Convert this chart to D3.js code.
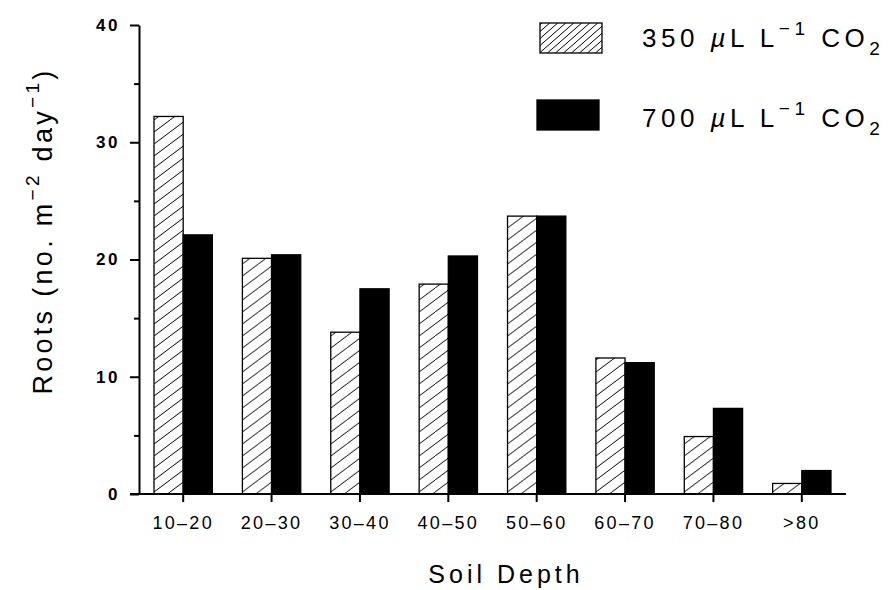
<!DOCTYPE html>
<html>
<head>
<meta charset="utf-8">
<script src="https://cdn.jsdelivr.net/npm/d3@7"></script>
<style>
  body { margin: 0; background: #fff; }
  svg text { font-family: "Liberation Sans", Arial, sans-serif; fill: #000; }
</style>
</head>
<body>
<div id="chart"></div>
<script>
// du lieu doc tu hinh
const depths = ["10–20", "20–30", "30–40", "40–50", "50–60", "60–70", "70–80", ">80"];
const co2Levels = ["350", "700"];
const roots350 = [32.2, 20.1, 13.8, 17.9, 23.7, 11.6, 4.9, 0.9];
const roots700 = [22.1, 20.4, 17.5, 20.3, 23.7, 11.2, 7.3, 2.0];
const yMajorTicks = [0, 10, 20, 30, 40];
const yMinorTicks = [5, 15, 25, 35];

const width = 896, height = 590;

const svg = d3.select("#chart")
    .append("svg")
    .attr("width", width)
    .attr("height", height);

const defs = svg.append("defs");
// hatch cho cot
defs.append("pattern")
    .attr("id", "hatch")
    .attr("patternUnits", "userSpaceOnUse")
    .attr("width", 16).attr("height", 12)
    .call(p => {
        p.append("rect").attr("width", 16).attr("height", 12).attr("fill", "#fff");
        p.append("path")
            .attr("d", "M-2,13.5 L18,-1.5")
            .attr("stroke", "#000").attr("stroke-width", 1);
    });
// hatch nho hon cho chu thich
defs.append("pattern")
    .attr("id", "hatchSmall")
    .attr("patternUnits", "userSpaceOnUse")
    .attr("width", 8).attr("height", 7)
    .call(p => {
        p.append("rect").attr("width", 8).attr("height", 7).attr("fill", "#fff");
        p.append("path")
            .attr("d", "M-2,8.75 L10,-1.75")
            .attr("stroke", "#000").attr("stroke-width", 1);
    });

const x0 = 139, x1 = 846;
const xScale = d3.scaleBand()
    .domain(depths)
    .range([x0, x1])
    .paddingInner(0.34)
    .paddingOuter(0.17);

const xSub = d3.scaleBand()
    .domain(co2Levels)
    .range([0, xScale.bandwidth()]);

const yScale = d3.scaleLinear()
    .domain([0, 40])
    .range([494, 25]);

const data = depths.map((d, i) => ({depth: d, values: [
    {level: "350", v: roots350[i]},
    {level: "700", v: roots700[i]}
]}));

// cot
const groups = svg.selectAll(".grp")
    .data(data)
    .enter()
    .append("g")
    .attr("transform", d => `translate(${xScale(d.depth)},0)`);

groups.selectAll("rect")
    .data(d => d.values)
    .enter()
    .append("rect")
    .attr("x", d => xSub(d.level))
    .attr("y", d => yScale(d.v))
    .attr("width", xSub.bandwidth())
    .attr("height", d => yScale(0) - yScale(d.v))
    .attr("fill", d => d.level === "350" ? "url(#hatch)" : "#000")
    .attr("stroke", "#000")
    .attr("stroke-width", 1.3);

// truc x
const xAxis = svg.append("g")
    .attr("transform", `translate(0,${yScale(0)})`)
    .call(d3.axisBottom(xScale).tickSize(8).tickSizeOuter(0).tickPadding(14));
xAxis.select(".domain").remove();
xAxis.selectAll("line").attr("stroke-width", 2);
xAxis.selectAll("text")
    .attr("font-family", "'Liberation Sans', Arial, sans-serif")
    .style("font-size", "18px")
    .style("letter-spacing", "2.3px");
svg.append("line")
    .attr("x1", 130).attr("x2", x1)
    .attr("y1", yScale(0)).attr("y2", yScale(0))
    .attr("stroke", "#000").attr("stroke-width", 2);

// truc y
const yAxis = svg.append("g")
    .attr("transform", `translate(${x0},0)`)
    .call(d3.axisLeft(yScale).tickValues(yMajorTicks).tickSize(9).tickSizeOuter(0).tickPadding(10));
yAxis.selectAll("line").attr("stroke-width", 2);
yAxis.select(".domain").attr("stroke-width", 2);
yAxis.selectAll("text")
    .attr("font-family", "'Liberation Sans', Arial, sans-serif")
    .style("font-size", "17px")
    .style("font-weight", "bold")
    .style("letter-spacing", "2.5px");
svg.append("g")
    .attr("transform", `translate(${x0},0)`)
    .call(d3.axisLeft(yScale).tickValues(yMinorTicks).tickSize(5).tickFormat(""))
    .call(g => g.select(".domain").remove())
    .selectAll("line").attr("stroke-width", 2);

// tieu de truc
svg.append("text")
    .attr("x", 506)
    .attr("y", 583)
    .attr("text-anchor", "middle")
    .style("font-size", "25px")
    .style("letter-spacing", "4px")
    .text("Soil Depth");

const yTitle = svg.append("text")
    .attr("transform", "translate(52,231) rotate(-90)")
    .attr("text-anchor", "middle")
    .style("font-size", "27px")
    .style("letter-spacing", "3.3px");
yTitle.append("tspan").text("Roots (no. m");
yTitle.append("tspan").attr("dy", -13).style("font-size", "19px").text("−2");
yTitle.append("tspan").attr("dy", 13).text(" day");
yTitle.append("tspan").attr("dy", -13).style("font-size", "19px").text("−1");
yTitle.append("tspan").attr("dy", 13).text(")");

// chu thich
const legend = svg.selectAll(".legend")
    .data(co2Levels)
    .enter()
    .append("g");

legend.append("rect")
    .attr("x", (d, i) => i === 0 ? 540 : 537)
    .attr("y", (d, i) => i === 0 ? 23 : 100)
    .attr("width", 62)
    .attr("height", 30)
    .attr("fill", d => d === "350" ? "url(#hatchSmall)" : "#000")
    .attr("stroke", "#000")
    .attr("stroke-width", 1.3);

const lt = legend.append("text")
    .attr("x", 642)
    .attr("y", (d, i) => i === 0 ? 47 : 127)
    .style("font-size", "26px")
    .style("letter-spacing", "4.5px");
lt.append("tspan").text(d => d + " ");
lt.append("tspan").style("font-style", "italic").text("µ");
lt.append("tspan").text("L L");
lt.append("tspan").attr("dy", -12).style("font-size", "19px").text("−1");
lt.append("tspan").attr("dy", 12).text(" CO");
lt.append("tspan").attr("dy", 8).style("font-size", "19px").text("2");
</script>
</body>
</html>
